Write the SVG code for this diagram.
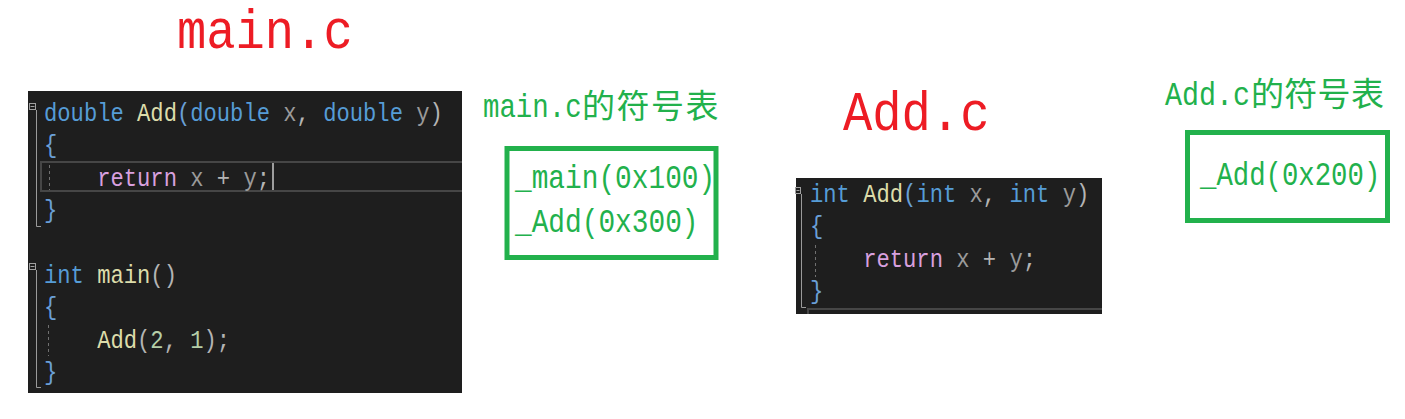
<svg xmlns="http://www.w3.org/2000/svg" width="1405" height="419" viewBox="0 0 1405 419">
<style>
.bg{fill:#ffffff}
.panel{fill:#1e1e1e}
.code{font-family:"Liberation Mono",monospace;font-size:26px;white-space:pre}
.kw{fill:#569cd6}
.fn{fill:#dcdcaa}
.pm{fill:#9a9a9a}
.pu{fill:#b4b4b4}
.br{fill:#6a9fd6}
.rt{fill:#d8a0df}
.nm{fill:#b5cea8}
.title{font-family:"Liberation Mono",monospace;font-size:56px;fill:#ed1c24}
.gt{font-family:"Liberation Mono",monospace;font-size:33px;fill:#22b14c;white-space:pre}
.cjk{font-family:"Noto Sans CJK SC",sans-serif;font-size:33px;fill:#22b14c}
.box{fill:none;stroke:#22b14c;stroke-width:5}
.fold{fill:#1e1e1e;stroke:#a0a0a0;stroke-width:1}
.bracket{fill:none;stroke:#9a9a9a;stroke-width:1}
.guide{fill:none;stroke:#707070;stroke-width:1;stroke-dasharray:3 3}
.hl{fill:none;stroke:#464646;stroke-width:2}
</style>
<rect class="bg" x="0" y="0" width="1405" height="419"/>

<g id="title-main">
<text class="title" transform="translate(177,48) scale(0.872,1)">main.c</text>
</g>

<g id="panel-main">
<rect class="panel" x="28" y="91" width="434" height="302"/>
<path class="hl" d="M462 162 H41 V191 H462"/>
<rect class="fold" x="29.5" y="103.5" width="6" height="6"/>
<path d="M30.5 106.5 H34.5" stroke="#a0a0a0" stroke-width="1"/>
<path class="bracket" d="M36.5 110 V226.5 H41"/>
<rect class="fold" x="29.5" y="263.5" width="6" height="6"/>
<path d="M30.5 266.5 H34.5" stroke="#a0a0a0" stroke-width="1"/>
<path class="bracket" d="M36.5 270 V387.5 H41"/>
<path class="guide" d="M49.5 165 V190"/>
<path class="guide" d="M48.5 325 V356"/>
<line x1="273" y1="163" x2="273" y2="190" stroke="#c8c8c8" stroke-width="1.5"/>
<text class="code" xml:space="preserve" transform="translate(44,121) scale(0.8526,1)"><tspan class="kw">double</tspan><tspan class="pu"> </tspan><tspan class="fn">Add</tspan><tspan class="br">(</tspan><tspan class="kw">double</tspan><tspan class="pu"> </tspan><tspan class="pm">x</tspan><tspan class="pu">, </tspan><tspan class="kw">double</tspan><tspan class="pu"> </tspan><tspan class="pm">y</tspan><tspan class="pu">)</tspan></text>
<text class="code" xml:space="preserve" transform="translate(44,153.4) scale(0.8526,1)"><tspan class="br">{</tspan></text>
<text class="code" xml:space="preserve" transform="translate(44,185.8) scale(0.8526,1)"><tspan class="pu">    </tspan><tspan class="rt">return</tspan><tspan class="pu"> </tspan><tspan class="pm">x</tspan><tspan class="pu"> + </tspan><tspan class="pm">y</tspan><tspan class="pu">;</tspan></text>
<text class="code" xml:space="preserve" transform="translate(44,218.2) scale(0.8526,1)"><tspan class="br">}</tspan></text>
<text class="code" xml:space="preserve" transform="translate(44,283) scale(0.8526,1)"><tspan class="kw">int</tspan><tspan class="pu"> </tspan><tspan class="fn">main</tspan><tspan class="pu">()</tspan></text>
<text class="code" xml:space="preserve" transform="translate(44,315.4) scale(0.8526,1)"><tspan class="br">{</tspan></text>
<text class="code" xml:space="preserve" transform="translate(44,347.8) scale(0.8526,1)"><tspan class="pu">    </tspan><tspan class="fn">Add</tspan><tspan class="pu">(</tspan><tspan class="nm">2</tspan><tspan class="pu">, </tspan><tspan class="nm">1</tspan><tspan class="pu">);</tspan></text>
<text class="code" xml:space="preserve" transform="translate(44,380.2) scale(0.8526,1)"><tspan class="br">}</tspan></text>
</g>

<g id="symtab-main">
<text class="gt" transform="translate(483,117) scale(0.83,1)">main.c</text>
<text class="cjk" x="582" y="118" letter-spacing="1.5">的符号表</text>
<rect class="box" x="507" y="148.5" width="209" height="109"/>
<text class="gt" transform="translate(515,188) scale(0.843,1)">_main(0x100)</text>
<text class="gt" transform="translate(515,231.5) scale(0.843,1)">_Add(0x300)</text>
</g>

<g id="title-add">
<text class="title" transform="translate(843,130) scale(0.872,1)">Add.c</text>
</g>

<g id="panel-add">
<rect class="panel" x="796" y="178" width="306" height="136"/>
<rect class="fold" x="795.5" y="187.5" width="5" height="6"/>
<path d="M796.5 190.5 H799.5" stroke="#a0a0a0" stroke-width="1"/>
<path class="bracket" d="M801.5 194 V307.5 H806"/>
<path class="guide" d="M815.5 245 V277"/>
<path class="hl" d="M1102 309 H808 V314"/>
<text class="code" xml:space="preserve" transform="translate(810,201.7) scale(0.8526,1)"><tspan class="kw">int</tspan><tspan class="pu"> </tspan><tspan class="fn">Add</tspan><tspan class="br">(</tspan><tspan class="kw">int</tspan><tspan class="pu"> </tspan><tspan class="pm">x</tspan><tspan class="pu">, </tspan><tspan class="kw">int</tspan><tspan class="pu"> </tspan><tspan class="pm">y</tspan><tspan class="pu">)</tspan></text>
<text class="code" xml:space="preserve" transform="translate(810,234.1) scale(0.8526,1)"><tspan class="br">{</tspan></text>
<text class="code" xml:space="preserve" transform="translate(810,266.5) scale(0.8526,1)"><tspan class="pu">    </tspan><tspan class="rt">return</tspan><tspan class="pu"> </tspan><tspan class="pm">x</tspan><tspan class="pu"> + </tspan><tspan class="pm">y</tspan><tspan class="pu">;</tspan></text>
<text class="code" xml:space="preserve" transform="translate(810,298.9) scale(0.8526,1)"><tspan class="br">}</tspan></text>
</g>

<g id="symtab-add">
<text class="gt" transform="translate(1165,105) scale(0.86,1)">Add.c</text>
<text class="cjk" x="1251" y="106" letter-spacing="0.3">的符号表</text>
<rect class="box" x="1187.5" y="132.5" width="200" height="88"/>
<text class="gt" transform="translate(1200,185) scale(0.828,1)">_Add(0x200)</text>
</g>

<g id="connectors"></g>
</svg>
